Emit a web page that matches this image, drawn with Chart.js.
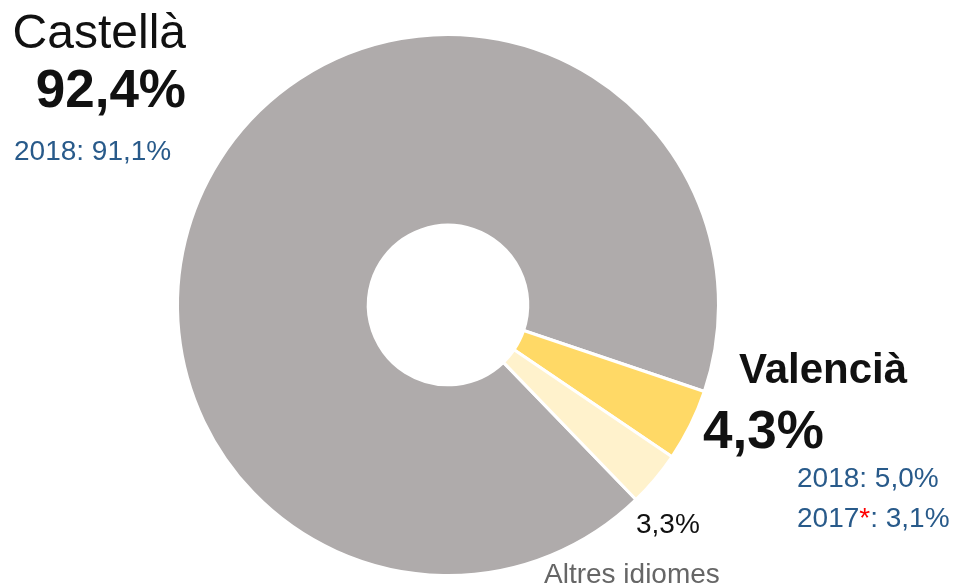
<!DOCTYPE html>
<html>
<head>
<meta charset="utf-8">
<script src="https://cdn.jsdelivr.net/npm/chart.js@4/dist/chart.umd.min.js"></script>
<style>
  html, body { margin: 0; background: #fff; }
  #wrap { position: relative; width: 961px; height: 587px; }
</style>
</head>
<body>
<div id="wrap"><canvas id="donut"></canvas></div>
<script>
// share of each language (%)
const languages = ["Castellà", "Valencià", "Altres idiomes"];
const shares = [92.4, 4.3, 3.3];
const sliceColors = ["#afabab", "#ffd966", "#fff2cc"];

// earlier years shown beside the main figures
const castellaPrev = [{ year: "2018", mark: "", value: "91,1%" }];
const valenciaPrev = [
  { year: "2018", mark: "", value: "5,0%" },
  { year: "2017", mark: "*", value: "3,1%" }
];

const fmt = v => v.toFixed(1).replace(".", ",") + "%";

const FONT = "'Liberation Sans', Arial, sans-serif";
const BLUE = "#285a8a";

function drawPrev(ctx, row, x, y) {
  ctx.textAlign = "left";
  ctx.fillStyle = BLUE;
  ctx.fillText(row.year, x, y);
  x += ctx.measureText(row.year).width;
  if (row.mark) {
    ctx.fillStyle = "#ff0000";
    ctx.fillText(row.mark, x, y);
    x += ctx.measureText(row.mark).width;
    ctx.fillStyle = BLUE;
  }
  ctx.fillText(": " + row.value, x, y);
}

// labels around the ring
const labelPlugin = {
  id: "labels",
  afterDraw(chart) {
    const ctx = chart.ctx;
    ctx.save();
    ctx.textBaseline = "alphabetic";

    // Castellà, top left
    ctx.fillStyle = "#111";
    ctx.textAlign = "right";
    ctx.font = "48px " + FONT;
    ctx.fillText(languages[0], 186, 48);
    ctx.font = "bold 53px " + FONT;
    ctx.fillText(fmt(shares[0]), 186, 107);
    ctx.font = "28px " + FONT;
    castellaPrev.forEach((r, i) => drawPrev(ctx, r, 14, 160 + i * 40));

    // Valencià, right
    ctx.fillStyle = "#111";
    ctx.textAlign = "left";
    ctx.font = "bold 42px " + FONT;
    ctx.fillText(languages[1], 739, 383);
    ctx.font = "bold 53px " + FONT;
    ctx.fillText(fmt(shares[1]), 703, 448);
    ctx.font = "28px " + FONT;
    valenciaPrev.forEach((r, i) => drawPrev(ctx, r, 797, 487 + i * 40));

    // Altres idiomes, bottom
    ctx.fillStyle = "#111";
    ctx.font = "28px " + FONT;
    ctx.fillText(fmt(shares[2]), 636, 533);
    ctx.fillStyle = "#666";
    ctx.fillText(languages[2], 544, 583);

    ctx.restore();
  }
};

new Chart(document.getElementById("donut"), {
  type: "doughnut",
  data: {
    labels: languages,
    datasets: [{
      data: shares,
      backgroundColor: sliceColors,
      borderColor: "#fff",
      borderWidth: 3
    }]
  },
  options: {
    responsive: true,
    maintainAspectRatio: false,
    animation: false,
    rotation: 136,
    cutout: "29.5%",
    layout: { padding: { left: 176, right: 241, top: 33, bottom: 10 } },
    plugins: {
      legend: { display: false },
      tooltip: { enabled: false }
    }
  },
  plugins: [labelPlugin]
});
</script>
</body>
</html>
